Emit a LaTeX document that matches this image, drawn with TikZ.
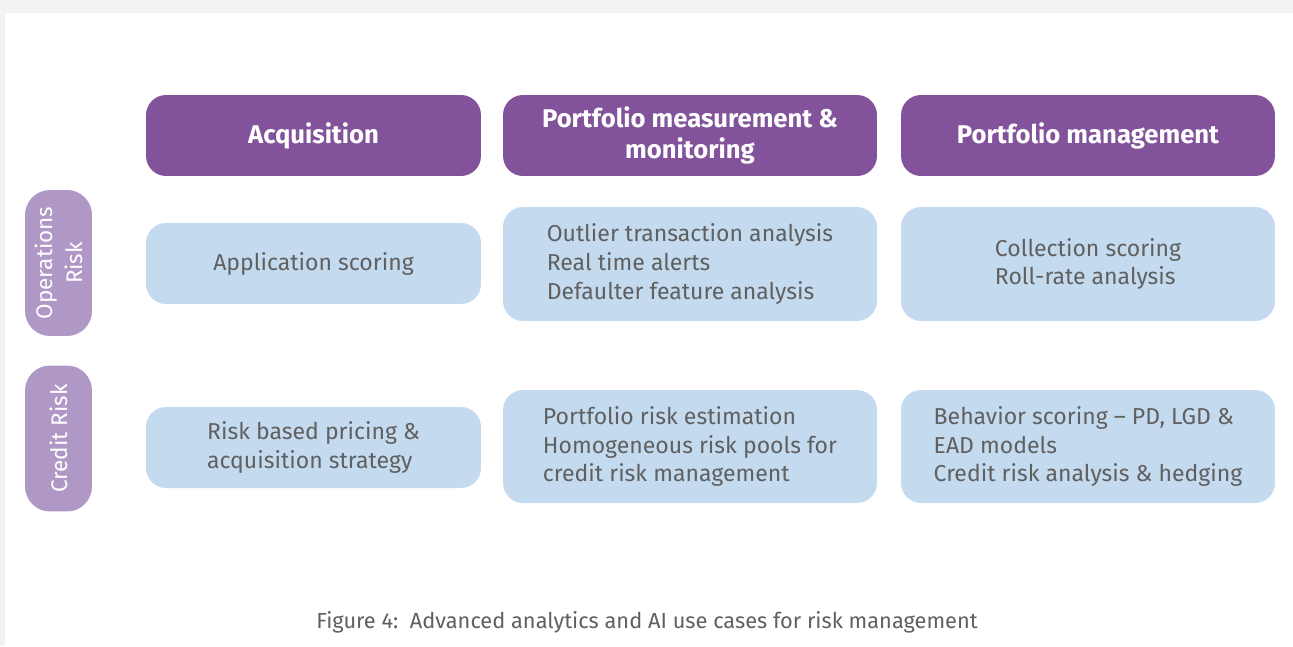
\documentclass[tikz,border=0pt]{standalone}
\usepackage{fontspec}
\setmainfont{Fira Sans}
\usepackage{tikz}
\definecolor{hdrpurple}{HTML}{82539B}
\definecolor{sidepurple}{HTML}{B098C6}
\definecolor{cellblue}{HTML}{C4DAEE}
\definecolor{txtgray}{HTML}{606060}
\definecolor{pagegray}{HTML}{F2F2F2}
\tikzset{
  hdr/.style={fill=hdrpurple,text=white,rounded corners=0.4cm,inner sep=0pt,outer sep=0pt,
    minimum width=#1,minimum height=1.62cm,align=center,font=\fontsize{14.6}{18}\selectfont\bfseries},
  cell/.style={fill=cellblue,text=txtgray,rounded corners=0.4cm,inner sep=0pt,outer sep=0pt,
    minimum width=#1,align=left,font=\fontsize{13.1}{16.4}\selectfont},
  side/.style={fill=sidepurple,text=white,rounded corners=0.5cm,inner sep=0pt,outer sep=0pt,
    minimum width=2.92cm,minimum height=1.34cm,rotate=90,align=center,font=\fontsize{12.8}{17}\selectfont}
}

\begin{document}
\begin{tikzpicture}[x=0.02cm,y=-0.02cm]
	% page
	\fill [pagegray](0,0)rectangle(1293,646);
	\fill [white](5,13)rectangle(1293,646);
	\useasboundingbox (0,0)rectangle(1293,646);
	% column heads
	\node [hdr=6.7cm](acq) at (313.5,135.5){Acquisition};
	\node [hdr=7.48cm](monit) at (690,135.5){Portfolio measurement \&\\monitoring};
	\node [hdr=7.48cm](mgmt) at (1088,135.5){Portfolio management};
	% row heads
	\node [side](ops) at (58.5,263){Operations\\Risk};
	\node [side](credit) at (58.5,438.5){Credit Risk};
	% operations risk row
	\node [cell=6.7cm,minimum height=1.62cm](opsacq) at (313.5,263.5){Application scoring};
	\node [cell=7.48cm,minimum height=2.28cm](opsmonit) at (690,264){Outlier transaction analysis\\Real time alerts\\Defaulter feature analysis};
	\node [cell=7.48cm,minimum height=2.28cm](opsmgmt) at (1088,264){Collection scoring\\Roll-rate analysis};
	% credit risk row
	\node [cell=6.7cm,minimum height=1.62cm](credacq) at (313.5,447.5){Risk based pricing \&\\acquisition strategy};
	\node [cell=7.48cm,minimum height=2.26cm](credmonit) at (690,446.5){Portfolio risk estimation\\Homogeneous risk pools for\\credit risk management};
	\node [cell=7.48cm,minimum height=2.26cm](credmgmt) at (1088,446.5){Behavior scoring -- PD, LGD \&\\EAD models\\Credit risk analysis \& hedging};
	% caption
	\node [text=txtgray,font=\fontsize{12.4}{14}\selectfont](cap) at (647,622){Figure 4:\ \ Advanced analytics and AI use cases for risk management};
\end{tikzpicture}
\end{document}
